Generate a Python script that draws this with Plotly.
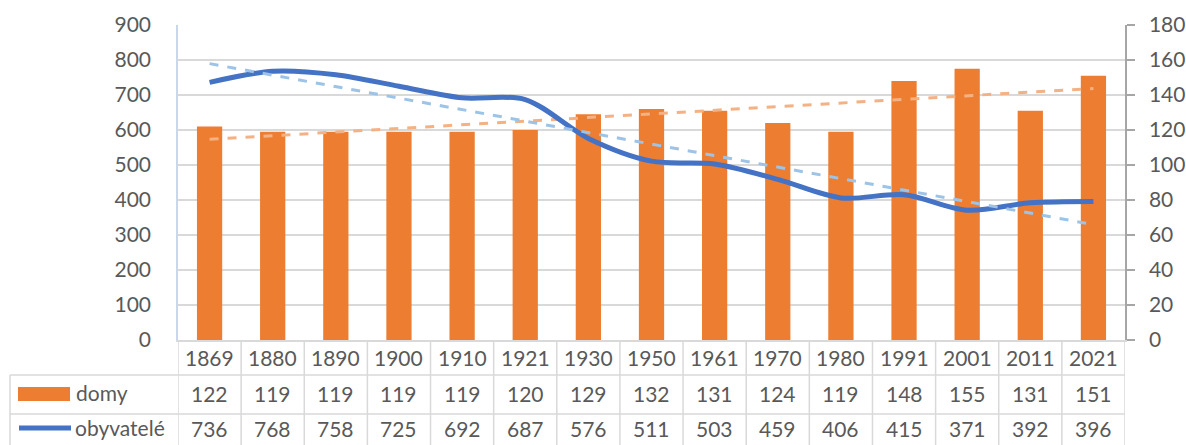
import numpy as np
import plotly.graph_objects as go

years = ["1869", "1880", "1890", "1900", "1910", "1921", "1930", "1950",
         "1961", "1970", "1980", "1991", "2001", "2011", "2021"]
domy = [122, 119, 119, 119, 119, 120, 129, 132, 131, 124, 119, 148, 155, 131, 151]
obyvatele = [736, 768, 758, 725, 692, 687, 576, 511, 503, 459, 406, 415, 371, 392, 396]
left_ticks = [0, 100, 200, 300, 400, 500, 600, 700, 800, 900]
right_ticks = [0, 20, 40, 60, 80, 100, 120, 140, 160, 180]

ORANGE = "#ED7D31"
BLUE = "#4472C4"
ORANGE_T = "#F4B183"
BLUE_T = "#9DC3E6"
TXT = "#595959"
GRID = "#D9D9D9"
FONT = "Lato"
FS = 21

xs = list(range(len(years)))
idx = np.arange(1, len(years) + 1)
cd = np.polyfit(idx, domy, 1)
co = np.polyfit(idx, obyvatele, 1)
trend_d = list(np.polyval(cd, idx))
trend_o = list(np.polyval(co, idx))

fig = go.Figure()
fig.add_trace(go.Bar(x=xs, y=domy, width=0.4, marker=dict(color=ORANGE, line=dict(width=0)),
                     name="domy", yaxis="y"))
fig.add_trace(go.Scatter(x=[xs[0], xs[-1]], y=[trend_d[0], trend_d[-1]], mode="lines",
                         line=dict(color=ORANGE_T, width=3, dash="dash"), yaxis="y",
                         showlegend=False))
fig.add_trace(go.Scatter(x=xs, y=obyvatele, mode="lines",
                         line=dict(color=BLUE, width=5, shape="spline", smoothing=0.9),
                         name="obyvatelé", yaxis="y2"))
fig.add_trace(go.Scatter(x=[xs[0], xs[-1]], y=[trend_o[0], trend_o[-1]], mode="lines",
                         line=dict(color=BLUE_T, width=3, dash="dash"), yaxis="y2",
                         showlegend=False))

W, H = 1186, 445
PL, PR, PT, PB = 178, 1125, 25, 340   # plot area in pixels
L, T, R, B = PL, PT, W - PR, H - PB
ph = PB - PT
pw = PR - PL

def py(ypix):
    return (PB - ypix) / ph

def px(xpix):
    return (xpix - PL) / pw

shapes = []
annotations = []
for i in range(len(years) + 1):
    shapes.append(dict(type="line", xref="x", yref="paper", x0=i - 0.5, x1=i - 0.5,
                       y0=0, y1=py(450), line=dict(color=GRID, width=1.5), layer="above"))
shapes.append(dict(type="line", xref="paper", yref="paper", x0=px(10), x1=px(10),
                   y0=py(375), y1=py(450), line=dict(color=GRID, width=1.5)))
for yy in (375, 414):
    shapes.append(dict(type="line", xref="paper", yref="paper", x0=px(10), x1=1,
                       y0=py(yy), y1=py(yy), line=dict(color=GRID, width=1.5)))
shapes.append(dict(type="rect", xref="paper", yref="paper", x0=px(18), x1=px(70),
                   y0=py(401), y1=py(387), fillcolor=ORANGE, line=dict(width=0)))
shapes.append(dict(type="line", xref="paper", yref="paper", x0=px(19), x1=px(71),
                   y0=py(428), y1=py(428), line=dict(color=BLUE, width=5)))

tf = dict(size=FS, color=TXT, family=FONT)
for i, yr in enumerate(years):
    annotations.append(dict(x=i, y=py(357), xref="x", yref="paper", text=yr, showarrow=False,
                            font=tf, yanchor="middle"))
    annotations.append(dict(x=i, y=py(393), xref="x", yref="paper", text=str(domy[i]),
                            showarrow=False, font=tf, yanchor="middle"))
    annotations.append(dict(x=i, y=py(429), xref="x", yref="paper", text=str(obyvatele[i]),
                            showarrow=False, font=tf, yanchor="middle"))
annotations.append(dict(x=px(74), y=py(392), xref="paper", yref="paper", text="domy",
                        showarrow=False, xanchor="left", yanchor="middle", font=tf))
annotations.append(dict(x=px(73), y=py(428), xref="paper", yref="paper", text="obyvatelé",
                        showarrow=False, xanchor="left", yanchor="middle", font=tf))

fig.update_layout(
    width=W, height=H,
    margin=dict(l=L, r=R, t=T, b=B, autoexpand=False),
    paper_bgcolor="white", plot_bgcolor="white",
    showlegend=False,
    font=dict(family=FONT, size=FS, color=TXT),
    xaxis=dict(range=[-0.5, len(years) - 0.5], showticklabels=False, ticks="",
               showgrid=False, zeroline=False, showline=True, linecolor=GRID, linewidth=1.5,
               fixedrange=True),
    yaxis=dict(side="right", range=[0, 180], tickvals=right_ticks,
               showgrid=True, gridcolor=GRID, gridwidth=1.5, zeroline=False,
               showline=True, linecolor="#A6A6A6", linewidth=1.5,
               ticks="outside", ticklen=8, tickcolor="#A6A6A6", tickwidth=1.5,
               ticklabelstandoff=10, tickfont=tf),
    yaxis2=dict(side="left", overlaying="y", range=[0, 900], tickvals=left_ticks,
                showgrid=False, zeroline=False, showline=True, linecolor="#C9D6EE",
                linewidth=1.5, ticks="", ticklabelstandoff=21, tickfont=tf),
    shapes=shapes, annotations=annotations,
    bargap=0.6,
)

fig.write_html(
    "out.html",
    config={"displayModeBar": False},
    post_script=("document.documentElement.style.overflow='hidden';"
                 "document.body.style.margin='0';document.body.style.overflow='hidden';"),
)
